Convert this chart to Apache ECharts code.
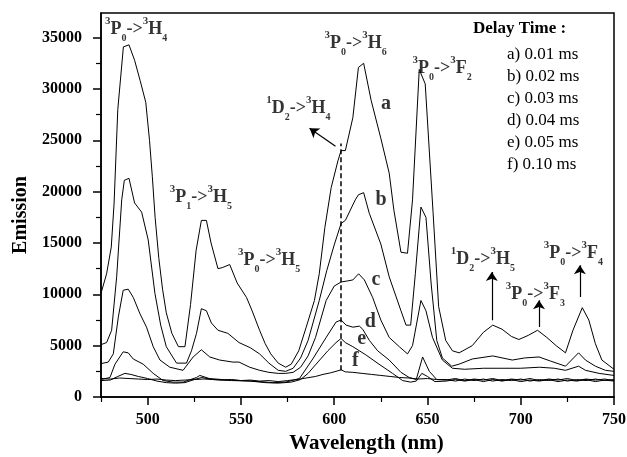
<!DOCTYPE html>
<html><head><meta charset="utf-8">
<script src="https://cdn.jsdelivr.net/npm/echarts@6/dist/echarts.min.js"></script>
<style>html,body{margin:0;padding:0;background:#fff}#c{width:627px;height:457px}</style>
</head><body><div id="c"></div>
<script>
// ---------- DATA ----------
const seriesNames = ['a) 0.01 ms','b) 0.02 ms','c) 0.03 ms','d) 0.04 ms','e) 0.05 ms','f) 0.10 ms'];
const curveLetters = ['a','b','c','d','e','f'];
const xTicks = [500,550,600,650,700,750];
const xMinorTicks = [475,525,575,625,675,725];
const yTicks = [0,5000,10000,15000,20000,25000,30000,35000];
const yMinorTicks = [2500,7500,12500,17500,22500,27500,32500];

const curveA = [[475,10100],[478,12000],[480.5,14600],[482,18800],[484,28000],[487,34100],[490,34300],[493,32800],[496,30800],[499,28700],[501,25000],[502.5,21500],[504,17500],[506,13500],[508,10500],[510,8200],[513,6200],[516.5,4900],[520,4900],[523,9000],[526,14300],[528.8,17200],[531.5,17200],[534,15000],[537.7,12500],[540,12600],[544,12900],[548,11100],[553,9700],[556,8400],[560,6500],[563,5200],[566,4200],[570,3300],[574,2900],[577,3200],[581,4500],[585,6800],[589.4,9400],[592,12000],[595,16500],[598.4,20400],[602,23000],[603.7,24000],[606,24000],[610,27200],[613,32100],[615.8,32500],[619.8,28900],[625,25200],[629.5,21800],[632,18200],[635.8,14100],[639.3,14000],[642,19200],[645.6,31900],[648.8,30500],[653,18000],[656,8800],[659.8,5500],[663.4,4500],[667,4300],[674,5000],[680,6300],[685,7000],[690,6600],[695,5900],[699,5600],[704,6000],[709,6500],[714,5800],[719,5000],[724,4300],[728,6500],[733,8700],[736.5,7500],[740,5200],[743.5,3600],[750,2700]];
const curveB = [[475,5100],[478,5300],[480.7,6500],[483.4,11700],[486.1,19200],[487.5,21100],[490,21300],[493,18900],[496.8,18000],[500.3,15300],[503.9,10100],[507,7000],[510,4900],[515.5,3300],[520.8,3300],[523.5,4500],[526.2,6200],[528.8,8600],[531.5,8400],[534.2,7200],[537.7,6500],[543,6200],[549,5300],[555,4800],[560,4200],[565,3300],[570,2600],[574,2500],[578,2800],[582,3800],[586,5500],[592,9400],[596,12300],[600,14800],[603.7,16900],[606,17200],[611.3,19200],[613,19700],[615.8,19900],[618.8,17900],[625,14900],[629.5,11700],[635.8,8400],[638.5,7000],[641,7000],[643.5,12000],[646.5,18500],[649.2,17500],[652,11000],[655,5500],[658,3800],[663,3000],[667,3200],[674,3700],[685,4000],[695.5,3600],[702,3800],[709.8,3900],[716,3500],[724,3000],[731,4300],[734.7,3600],[740,3000],[745.4,2600],[750,2500]];
const curveC = [[475,3250],[478.9,3400],[481.6,4200],[484.3,7800],[486.9,10400],[489.6,10500],[492.3,9700],[495.9,8100],[499.4,6800],[503,4900],[506.6,3600],[511.9,2900],[519,2600],[524.4,3900],[528.8,4600],[533.3,3900],[538.6,3600],[545.7,3400],[549,3400],[554.7,2900],[560,2600],[565,2400],[570,2300],[574,2300],[578,2400],[582,2900],[586,4000],[590,5800],[595.7,9400],[600,10800],[603.7,11200],[607,11300],[610,11400],[613.1,12000],[616.2,11400],[620.6,9700],[625,7500],[629.5,5800],[634.9,4900],[639.3,4200],[642,5000],[646.5,9400],[649.2,8400],[652.7,5800],[658,3600],[663.4,2800],[670,2700],[680,2800],[690,2800],[700,2800],[710,2900],[718,2800],[724,2600],[731,3000],[734.7,2600],[742,2300],[750,2100]];
const curveD = [[475,1700],[479.8,1900],[482.5,3200],[486.9,4400],[489.6,4300],[492.3,3700],[497.6,3200],[503,2300],[508.3,1600],[513.7,1450],[519,1450],[526.2,1900],[528,2100],[533,1800],[540,1700],[550,1600],[560,1500],[567,1400],[574,1450],[581.4,1800],[588.5,3700],[595.7,5800],[601,7300],[603.7,7500],[606.4,7000],[610,6800],[613.5,6900],[615.3,6600],[618.9,5500],[623.3,4500],[629.5,3600],[635.8,2400],[640.2,1900],[644,1700],[647.4,3900],[651,2500],[655,1700],[660,1700],[665,1550],[670,1750],[675,1600],[680,1750],[685,1550],[690,1700],[695,1600],[700,1750],[705,1550],[710,1700],[715,1600],[720,1750],[725,1550],[730,1700],[735,1600],[740,1750],[745,1600],[750,1700]];
const curveE = [[475,1600],[480,1650],[484,2000],[487.8,2300],[491,2200],[495,2000],[500,1800],[505,1550],[510,1400],[515,1350],[520,1400],[525,1700],[529,1900],[535,1700],[545,1600],[555,1550],[563,1400],[570,1350],[577,1450],[582,1700],[586,2300],[590.3,3200],[596.6,4500],[601,5300],[603.7,5700],[606,5300],[610,4900],[617,4100],[624,3200],[631.3,2300],[636.7,1600],[641,1450],[644,1550],[647,2300],[650,2000],[654,1500],[660,1550],[665,1700],[670,1550],[675,1700],[680,1500],[685,1700],[690,1550],[695,1700],[700,1500],[705,1650],[710,1550],[715,1700],[720,1500],[725,1650],[730,1550],[735,1700],[740,1500],[745,1650],[750,1550]];
const curveF = [[475,1800],[480,1750],[485,1850],[490,1800],[495,1750],[500,1700],[505,1750],[510,1650],[515,1600],[520,1650],[525,1700],[530,1750],[535,1700],[540,1650],[545,1700],[550,1600],[555,1650],[560,1550],[565,1600],[570,1500],[575,1600],[580,1700],[585,1850],[590,2000],[594,2200],[598,2350],[601,2500],[603.7,2650],[606,2450],[610,2400],[615,2300],[620,2200],[625,2100],[630,2000],[635,1900],[640,1850],[645,1750],[650,1800],[655,1700],[660,1650],[665,1800],[670,1600],[675,1750],[680,1650],[685,1800],[690,1600],[695,1750],[700,1650],[705,1800],[710,1600],[715,1750],[720,1650],[725,1800],[730,1600],[735,1750],[740,1650],[745,1750],[750,1600]];
const curves = [curveA, curveB, curveC, curveD, curveE, curveF];

// transition labels (^ = superscript, _ = subscript)
const transitionTexts = ['^3P_0->^3H_4','^3P_0->^3H_6','^3P_0->^3F_2','^1D_2->^3H_4','^3P_1->^3H_5','^3P_0->^3H_5','^1D_2->^3H_5','^3P_0->^3F_3','^3P_0->^3F_4'];
const legendTitle = 'Delay Time :';
const xName = 'Wavelength (nm)';
const yName = 'Emission';

// ---------- LAYOUT (annotation anchors, in axis units) ----------
const transitionAnchors = [[477.1,35800],[594.8,34450],[642,32015],[563.6,28120],[511.9,19450],[548.4,13310],[662.5,13360],[692,10000],[712.4,13950]];
const letterAnchors = [[627.8,28600],[625.1,19240],[622.4,11460],[619.4,7280],[614.8,5620],[611.4,3480]];
const arrowSegments = [
  [[600.7,24420],[586.8,26170]],
  [[684.5,7470],[684.5,12175]],
  [[709.8,6820],[709.8,9420]],
  [[731.7,9740],[731.7,12830]]
];
const dashSegment = [[603.7,2600],[603.7,24700]];

const FONT = "'Liberation Serif','Times New Roman',serif";

function toRich(s){
  let out = '', buf = '';
  const flush = () => { if (buf) { out += '{mn|' + buf + '}'; buf = ''; } };
  for (let i = 0; i < s.length; i++) {
    const ch = s[i];
    if (ch === '^') { flush(); out += '{sp|' + s[++i] + '}'; }
    else if (ch === '_') { flush(); out += '{sb|' + s[++i] + '}'; }
    else buf += ch;
  }
  flush();
  return out;
}
const richStyles = {
  mn: {fontFamily: FONT, fontWeight: 'bold', fontSize: 18, lineHeight: 28, verticalAlign: 'middle', color: '#000'},
  sp: {fontFamily: FONT, fontWeight: 'bold', fontSize: 11, lineHeight: 20, verticalAlign: 'top', color: '#000'},
  sb: {fontFamily: FONT, fontWeight: 'bold', fontSize: 10, lineHeight: 8, verticalAlign: 'bottom', color: '#000'}
};

const chart = echarts.init(document.getElementById('c'), null, {renderer: 'canvas'});

const lineSeries = curves.map((d, i) => ({
  type: 'line', name: seriesNames[i], data: d,
  symbol: 'none', showSymbol: false, smooth: false, silent: true,
  lineStyle: {color: '#000', width: 1}, itemStyle: {color: '#000'},
  z: 3
}));

const plainNum = v => String(v);

const option = {
  animation: false,
  backgroundColor: '#fff',
  grid: {left: 101, right: 13, top: 13, bottom: 60, show: true, borderColor: '#000', borderWidth: 1.5, backgroundColor: 'transparent', containLabel: false, outerBoundsMode: 'none'},
  title: {text: legendTitle, left: 473, top: 20, padding: 0,
    textStyle: {fontFamily: FONT, fontWeight: 'bold', fontSize: 17, color: '#000', lineHeight: 17}},
  legend: {data: seriesNames, orient: 'vertical', left: 498, top: 44, padding: 0, itemGap: 0,
    itemWidth: 0, itemHeight: 10, selectedMode: false,
    itemStyle: {opacity: 0}, lineStyle: {opacity: 0},
    textStyle: {fontFamily: FONT, fontSize: 17, color: '#000', lineHeight: 22}},
  xAxis: [
    {type: 'value', min: 475, max: 750, position: 'bottom',
     name: xName, nameLocation: 'middle', nameGap: 32,
     nameTextStyle: {fontFamily: FONT, fontWeight: 'bold', fontSize: 21, color: '#000', padding: [0,0,0,18]},
     axisLine: {show: true, onZero: false, lineStyle: {color: '#000', width: 1.5}},
     axisTick: {show: true, inside: false, length: 8, lineStyle: {color: '#000', width: 1.5}, customValues: xTicks},
     axisLabel: {show: true, margin: 15, customValues: xTicks, formatter: plainNum, fontFamily: FONT, fontWeight: 'bold', fontSize: 16, color: '#000'},
     splitLine: {show: false}},
    {type: 'value', min: 475, max: 750, position: 'bottom',
     axisLine: {show: false, onZero: false},
     axisTick: {show: true, inside: false, length: 5, lineStyle: {color: '#000', width: 1.2}, customValues: xMinorTicks},
     axisLabel: {show: false}, splitLine: {show: false}}
  ],
  yAxis: [
    {type: 'value', min: 0, max: 37400, position: 'left',
     name: yName, nameLocation: 'middle', nameGap: 66,
     nameTextStyle: {fontFamily: FONT, fontWeight: 'bold', fontSize: 20, color: '#000', padding: [0,20,0,0]},
     axisLine: {show: true, onZero: false, lineStyle: {color: '#000', width: 1.5}},
     axisTick: {show: true, inside: false, length: 8, lineStyle: {color: '#000', width: 1.5}, customValues: yTicks},
     axisLabel: {show: true, margin: 19, customValues: yTicks, formatter: plainNum, fontFamily: FONT, fontWeight: 'bold', fontSize: 16, color: '#000'},
     splitLine: {show: false}},
    {type: 'value', min: 0, max: 37400, position: 'left',
     axisLine: {show: false, onZero: false},
     axisTick: {show: true, inside: false, length: 5, lineStyle: {color: '#000', width: 1.2}, customValues: yMinorTicks},
     axisLabel: {show: false}, splitLine: {show: false}}
  ],
  series: lineSeries.concat([
    {type: 'scatter', name: 'transitions', symbolSize: 0, silent: true, z: 5,
     data: transitionTexts.map((t, i) => ({
       value: transitionAnchors[i],
       label: {show: true, position: 'right', distance: 0, formatter: () => toRich(t), rich: richStyles}
     })),
     markLine: {silent: true, symbol: ['none', 'arrow'], symbolSize: 9, precision: 2,
       label: {show: false}, itemStyle: {color: '#000'},
       lineStyle: {color: '#000', width: 1.2, type: 'solid'},
       emphasis: {disabled: true},
       data: arrowSegments.map(s => [{coord: s[0], symbol: 'none'}, {coord: s[1], symbol: 'arrow', symbolSize: 9}])}
    },
    {type: 'scatter', name: 'letters', symbolSize: 0, silent: true, z: 5,
     data: curveLetters.map((l, i) => ({
       value: letterAnchors[i],
       label: {show: true, position: 'inside', formatter: () => l, fontFamily: FONT, fontWeight: 'bold', fontSize: 20, color: '#000'}
     })),
     markLine: {silent: true, symbol: ['none', 'none'], label: {show: false},
       lineStyle: {color: '#000', width: 1.5, type: [5, 3]},
       emphasis: {disabled: true},
       data: [[{coord: dashSegment[0]}, {coord: dashSegment[1]}]]}
    }
  ])
};
chart.setOption(option);
</script></body></html>
